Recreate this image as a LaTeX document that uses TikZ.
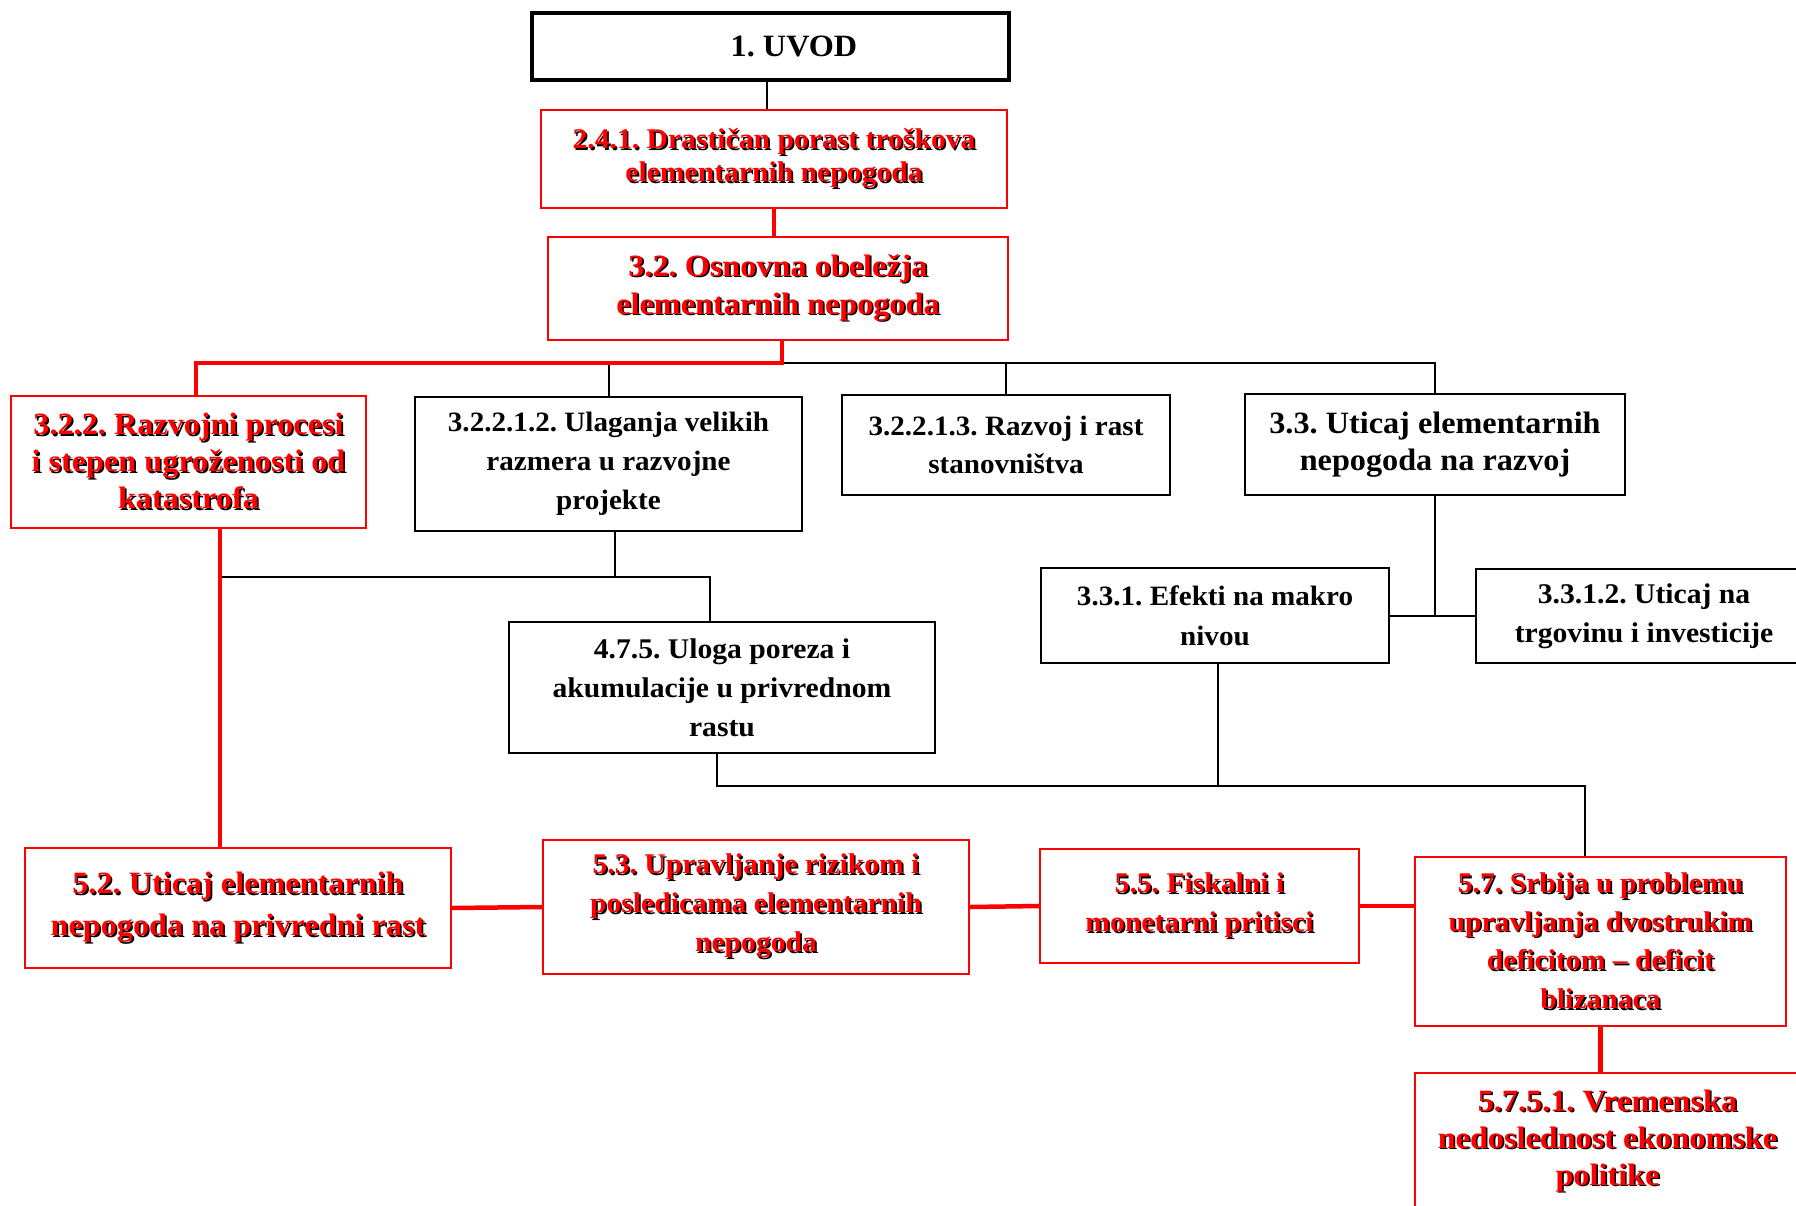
\documentclass[tikz,border=0pt]{standalone}
\usepackage{fontspec}
\setmainfont{Liberation Serif}[FakeStretch=1.04]
\frenchspacing
\newcommand\shd[1]{\leavevmode\rlap{\kern1.7pt\raisebox{-1.7pt}{\color{black}#1}}#1}
\newcommand\fs[2]{\fontsize{#1pt}{#2pt}\selectfont\bfseries}
\definecolor{rd}{RGB}{255,0,0}
\tikzset{
  kbox/.style={draw=black, line width=2.3pt, fill=white, inner sep=0pt, align=center, text=black},
  rbox/.style={draw=rd, line width=2.2pt, fill=white, inner sep=0pt, align=center, text=rd},
  bline/.style={draw=black, line width=2pt},
  rline/.style={draw=rd, line width=4.5pt},
}
\begin{document}
\begin{tikzpicture}[x=1pt,y=-1pt]
\useasboundingbox (0,0) rectangle (1796,1206);
\fill[white] (0,0) rectangle (1796,1206);

% nodes
\node[kbox, line width=4.2pt, minimum width=477pt, minimum height=67pt, font=\fs{31}{38}] (uvod) at (770.5,46.5) {\hspace*{47pt}1. UVOD};
\node[rbox, minimum width=466pt, minimum height=98pt, font=\fs{28.5}{33}] (b241) at (774,159) {\shd{2.4.1. Drastičan porast troškova}\\\shd{elementarnih nepogoda}};
\node[rbox, minimum width=460pt, minimum height=103pt, font=\fs{31}{38}] (b32) at (778,288.5) {\shd{3.2. Osnovna obeležja}\\\shd{elementarnih nepogoda}};
\node[rbox, minimum width=355pt, minimum height=132pt, font=\fs{31}{37}] (b322) at (188.5,462) {\shd{3.2.2. Razvojni procesi}\\\shd{i stepen ugroženosti od}\\\shd{katastrofa}};
\node[kbox, minimum width=387pt, minimum height=134pt, font=\fs{28}{39}] (b32212) at (608.5,464) {3.2.2.1.2. Ulaganja velikih\\razmera u razvojne\\projekte};
\node[kbox, minimum width=328pt, minimum height=100pt, font=\fs{28}{38}] (b32213) at (1006,445) {3.2.2.1.3. Razvoj i rast\\stanovništva};
\node[kbox, minimum width=380pt, minimum height=101pt, font=\fs{31}{37}] (b33) at (1435,444.5) {3.3. Uticaj elementarnih\\nepogoda na razvoj};
\node[kbox, minimum width=348pt, minimum height=95pt, font=\fs{28}{40}] (b331) at (1215,615.5) {3.3.1. Efekti na makro\\nivou};
\node[kbox, minimum width=336pt, minimum height=94pt, font=\fs{28.5}{39}] (b3312) at (1644,616) {3.3.1.2. Uticaj na\\trgovinu i investicije};
\node[kbox, minimum width=426pt, minimum height=131pt, font=\fs{28.5}{39}] (b475) at (722,687.5) {4.7.5. Uloga poreza i\\akumulacije u privrednom\\rastu};
\node[rbox, minimum width=426pt, minimum height=120pt, font=\fs{31}{42}] (b52) at (238,908) {\shd{5.2. Uticaj elementarnih}\\\shd{nepogoda na privredni rast}};
\node[rbox, minimum width=426pt, minimum height=134pt, font=\fs{28.5}{39}] (b53) at (756,907) {\shd{5.3. Upravljanje rizikom i}\\\shd{posledicama elementarnih}\\\shd{nepogoda}};
\node[rbox, minimum width=319pt, minimum height=114pt, font=\fs{28.5}{39}] (b55) at (1199.5,906) {\shd{5.5. Fiskalni i}\\\shd{monetarni pritisci}};
\node[rbox, minimum width=371pt, minimum height=169pt, font=\fs{28.5}{38.7}] (b57) at (1600.5,941.5) {\shd{5.7. Srbija u problemu}\\\shd{upravljanja dvostrukim}\\\shd{deficitom – deficit}\\\shd{blizanaca}};
\node[rbox, minimum width=385pt, minimum height=137pt, font=\fs{31}{37}] (b5751) at (1607.5,1141.5) {\shd{5.7.5.1. Vremenska}\\\shd{nedoslednost ekonomske}\\\shd{politike}};

% junction coordinates
\coordinate (busL) at (196,363);
\coordinate (busM) at (782,363);
\coordinate (v1) at (220,577);
\coordinate (j212) at (615,577);
\coordinate (j475) at (710,577);
\coordinate (k1) at (717,786);
\coordinate (k3) at (1218,786);
\coordinate (k2) at (1585,786);
\coordinate (m1) at (1435,616);

% black connectors
\draw[bline] ([xshift=-4pt]uvod.south) -- ([xshift=-4pt]uvod.south |- b241.north);
\draw[bline] (busM) -- (b33.north |- busM) -- (b33.north);
\draw[bline] (b32212.north |- busM) -- (b32212.north);
\draw[bline] (b32213.north |- busM) -- (b32213.north);
\draw[bline] (b32212.south -| j212) -- (j212);
\draw[bline] (v1) -- (j475) -- (j475 |- b475.north);
\draw[bline] (b475.south -| k1) -- (k1) -- (k2) -- (k2 |- b57.north);
\draw[bline] (b331.south -| k3) -- (k3);
\draw[bline] (b33.south -| m1) -- (m1);
\draw[bline] (b331.east |- m1) -- (b3312.west |- m1);

% red connectors
\draw[rline] (b241.south) -- (b241.south |- b32.north);
\draw[rline] (b32.south -| busM) -- (busM) -- (busL) -- (busL |- b322.north);
\draw[rline] (b322.south -| v1) -- (b52.north -| v1);
\draw[rline] (b52.east) -- (b53.west);
\draw[rline] (b53.east) -- (b55.west);
\draw[rline] (b55.east) -- (b55.east -| b57.west);
\draw[rline] (b57.south) -- (b57.south |- b5751.north);
\end{tikzpicture}
\end{document}
